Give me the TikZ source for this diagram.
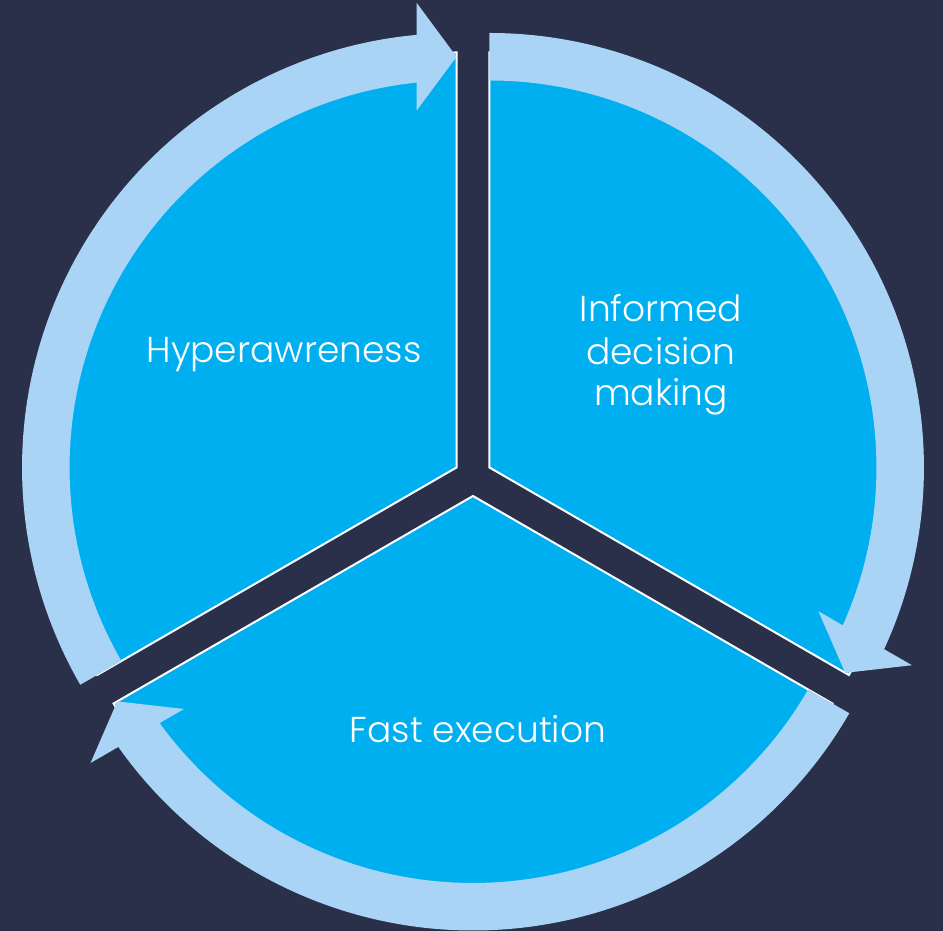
\documentclass[tikz,border=0pt]{standalone}
\usepackage{fontspec}
\newfontfamily\labelfont{Poppins Light}
\usetikzlibrary{calc}

\definecolor{bgnavy}{HTML}{2A3049}
\definecolor{segblue}{HTML}{00AFEF}
\definecolor{ringblue}{HTML}{AAD4F5}

\tikzset{
  segment/.style={fill=segblue, draw=white, line width=2pt, line join=miter},
  ring/.style={fill=ringblue},
  seglabel/.style={text=white, font=\labelfont\fontsize{36}{41}\selectfont,
                   inner sep=0pt, anchor=base}
}

% Curved arrow of the cycle: apex, tail angle, tip angle (runs clockwise)
\newcommand\cyclearrow[3]{%
  \fill[ring] ($(#1)+(#2:387pt)$) -- ($(#1)+(#2:434.5pt)$)
    arc[start angle=#2, end angle=#3+5.2, radius=434.5pt]
    -- ($(#1)+({#3+5.2}:387pt)$)
    arc[start angle=#3+5.2, end angle=#2, radius=387pt] -- cycle;
  \fill[ring] ($(#1)+(#3:410.75pt)$)
    -- ($(#1)+(#3:410.75pt)+({#3+90}:40pt)+(#3:54pt)$)
    -- ($(#1)+(#3:410.75pt)+({#3+90}:40pt)+({#3+180}:54pt)$) -- cycle;
}

\begin{document}
\begin{tikzpicture}[x=1pt, y=1pt]
  \useasboundingbox (0,0) rectangle (943,931);
  \fill[bgnavy] (0,0) rectangle (943,931);

  % exploded pie: each wedge pushed out from the common centre
  \coordinate (ctr) at (473,454);
  \coordinate (apexL) at ($(ctr)+(150:19pt)$);
  \coordinate (apexR) at ($(ctr)+(30:19pt)$);
  \coordinate (apexB) at ($(ctr)+(270:19pt)$);

  \path[segment] (apexL) -- ($(apexL)+(90:415pt)$)
    arc[start angle=90, end angle=210, radius=415pt] -- cycle;
  \path[segment] (apexR) -- ($(apexR)+(-30:415pt)$)
    arc[start angle=-30, end angle=90, radius=415pt] -- cycle;
  \path[segment] (apexB) -- ($(apexB)+(210:415pt)$)
    arc[start angle=210, end angle=330, radius=415pt] -- cycle;

  % arrows around the wedges
  \cyclearrow{apexL}{210}{90}
  \cyclearrow{apexR}{90}{-30}
  \cyclearrow{apexB}{-30}{-150}

  % labels
  \node[seglabel] (hyper) at (284,568) {Hyperawreness};
  \node[seglabel] (inf1) at (661,609) {Informed};
  \node[seglabel] (inf2) at (661,566) {decision};
  \node[seglabel] (inf3) at (661,525) {making};
  \node[seglabel] (fast) at (478,188) {Fast execution};
\end{tikzpicture}
\end{document}
